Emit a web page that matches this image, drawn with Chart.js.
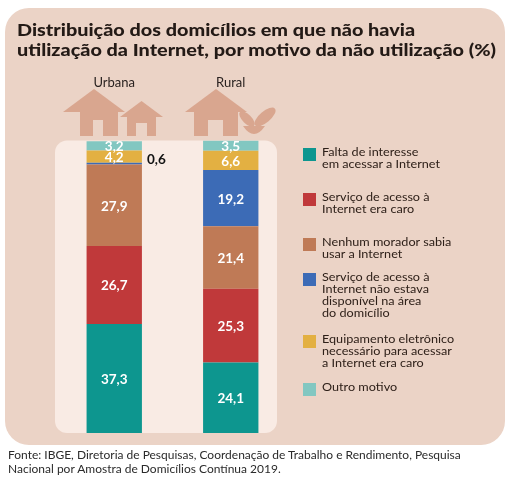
<!DOCTYPE html>
<html lang="pt-BR">
<head>
<meta charset="utf-8">
<script src="https://cdn.jsdelivr.net/npm/chart.js@4/dist/chart.umd.min.js"></script>
<style>
  body { margin: 0; background: #fff; font-family: Lato, "Open Sans", sans-serif; }
  #wrap { position: relative; width: 512px; height: 481px; overflow: hidden; }
  #painel { position: absolute; left: 5px; top: 8px; width: 500px; height: 437px;
            background: #ebd3c6; border-radius: 24px; }
  #grafico { position: absolute; left: 0; top: 0; }
  #titulo { position: absolute; left: 17px; top: 20px; font-weight: 900; font-size: 17px;
            line-height: 19.5px; color: #231a16; white-space: nowrap;
            transform: scaleX(1.165); transform-origin: 0 0; }
  #legenda { position: absolute; left: 303px; top: 0; }
  .item { position: absolute; left: 0; width: 200px; }
  .caixa { position: absolute; left: 0; top: 0; width: 13px; height: 13px; }
  .texto { position: absolute; left: 19px; top: -2px; font-size: 11.5px; line-height: 12px;
           color: #2e2019; white-space: pre; transform: scaleX(1.1); transform-origin: 0 0; }
  #fonte { position: absolute; left: 8px; top: 448px; font-size: 11px; line-height: 14px; color: #2a2a2a;
           white-space: nowrap; transform: scaleX(1.09); transform-origin: 0 0; }
</style>
</head>
<body>
<div id="wrap">
  <div id="painel"></div>
  <canvas id="grafico" width="512" height="481"></canvas>
  <div id="titulo">Distribuição dos domicílios em que não havia<br>utilização da Internet, por motivo da não utilização (%)</div>
  <div id="legenda"></div>
  <div id="fonte">Fonte: IBGE, Diretoria de Pesquisas, Coordenação de Trabalho e Rendimento, Pesquisa<br>Nacional por Amostra de Domicílios Contínua 2019.</div>
</div>
<script>
// categorias e valores (%)
var categorias = ["Urbana", "Rural"];
var motivos = [
  "Falta de interesse\nem acessar a Internet",
  "Serviço de acesso à\nInternet era caro",
  "Nenhum morador sabia\nusar a Internet",
  "Serviço de acesso à\nInternet não estava\ndisponível na área\ndo domicílio",
  "Equipamento eletrônico\nnecessário para acessar\na Internet era caro",
  "Outro motivo"
];
var faltaInteresse = [37.3, 24.1];
var servicoCaro = [26.7, 25.3];
var naoSabiaUsar = [27.9, 21.4];
var naoDisponivel = [0.6, 19.2];
var equipamentoCaro = [4.2, 6.6];
var outroMotivo = [3.2, 3.5];

var cores = ["#0d968f", "#c0393a", "#bf7a56", "#3c6bb6", "#e3b042", "#82c7c1"];
var topoLegenda = [148, 193, 238, 273, 335, 383];

var series = [faltaInteresse, servicoCaro, naoSabiaUsar, naoDisponivel, equipamentoCaro, outroMotivo];

// legenda em HTML
var legenda = document.getElementById("legenda");
motivos.forEach(function (m, i) {
    var item = document.createElement("div");
    item.className = "item";
    item.style.top = topoLegenda[i] + "px";
    var caixa = document.createElement("div");
    caixa.className = "caixa";
    caixa.style.background = cores[i];
    var texto = document.createElement("div");
    texto.className = "texto";
    texto.textContent = m;
    item.appendChild(caixa);
    item.appendChild(texto);
    legenda.appendChild(item);
});

var corCasa = "#d9a68f";
var corFundoInterno = "#f9ebe4";

function casa(ctx, x0, x1, topo, beiral, cx0, cx1, p0, p1, portaTopo, base) {
    ctx.fillStyle = corCasa;
    ctx.beginPath();
    ctx.moveTo(x0, beiral);
    ctx.lineTo((x0 + x1) / 2, topo);
    ctx.lineTo(x1, beiral);
    ctx.closePath();
    ctx.fill();
    ctx.fillRect(cx0, beiral - 1, cx1 - cx0, base - beiral + 1);
    ctx.fillStyle = "#ebd3c6";
    ctx.fillRect(p0, portaTopo, p1 - p0, base - portaTopo);
}

// fundo claro, casas e planta
var decoracao = {
    id: "decoracao",
    beforeDatasetsDraw: function (chart) {
        var ctx = chart.ctx;
        var a = chart.chartArea;
        ctx.save();
        ctx.fillStyle = corFundoInterno;
        ctx.beginPath();
        ctx.roundRect(a.left - 1, a.top, a.right - a.left - 11, a.bottom - a.top, 12);
        ctx.fill();

        casa(ctx, 63, 125, 89, 112, 80, 118, 93, 103, 120, 136);
        casa(ctx, 120, 163, 101, 117, 127, 156, 136, 147, 123, 136);
        casa(ctx, 185, 247, 89, 112, 194, 238, 208, 223, 120, 136);

        // planta
        ctx.fillStyle = corCasa;
        ctx.beginPath();
        ctx.ellipse(247, 119, 10, 4.5, Math.PI / 4, 0, Math.PI * 2);
        ctx.fill();
        ctx.beginPath();
        ctx.ellipse(265, 117, 13, 5.5, -Math.PI / 4.5, 0, Math.PI * 2);
        ctx.fill();
        ctx.beginPath();
        ctx.moveTo(243, 126);
        ctx.quadraticCurveTo(254, 142, 265, 126);
        ctx.closePath();
        ctx.fill();
        ctx.restore();
    },
    afterDatasetsDraw: function (chart) {
        var ctx = chart.ctx;
        ctx.save();
        ctx.font = "bold 13.5px Lato, sans-serif";
        ctx.textBaseline = "middle";
        chart.data.datasets.forEach(function (ds, i) {
            chart.getDatasetMeta(i).data.forEach(function (bar, j) {
                var v = ds.data[j];
                var txt = v.toFixed(1).replace(".", ",");
                var h = Math.abs(bar.base - bar.y);
                if (h < 5) {
                    ctx.fillStyle = "#111";
                    ctx.textAlign = "left";
                    ctx.fillText(txt, bar.x + bar.width / 2 + 5, bar.y - 3);
                } else {
                    ctx.fillStyle = "#fff";
                    ctx.textAlign = "center";
                    ctx.fillText(txt, bar.x, (bar.y + bar.base) / 2 + 1);
                }
            });
        });
        ctx.restore();
    }
};

new Chart(document.getElementById("grafico"), {
    type: "bar",
    data: {
        labels: categorias,
        datasets: series.map(function (s, i) {
            return {
                label: motivos[i].replace(/\n/g, " "),
                data: s,
                backgroundColor: cores[i],
                borderWidth: 0,
                categoryPercentage: 1,
                barPercentage: 0.475
            };
        })
    },
    options: {
        responsive: false,
        animation: false,
        layout: { padding: { left: 56, right: 223, top: 25, bottom: 48 } },
        plugins: {
            legend: { display: false },
            tooltip: { enabled: false }
        },
        scales: {
            x: {
                stacked: true,
                position: "top",
                grid: { display: false, drawTicks: false },
                border: { display: false },
                ticks: { color: "#2a2220", font: { size: 13, family: "Lato" }, padding: 50 }
            },
            y: {
                stacked: true,
                display: false,
                min: 0,
                max: 100.1
            }
        }
    },
    plugins: [decoracao]
});
</script>
</body>
</html>
